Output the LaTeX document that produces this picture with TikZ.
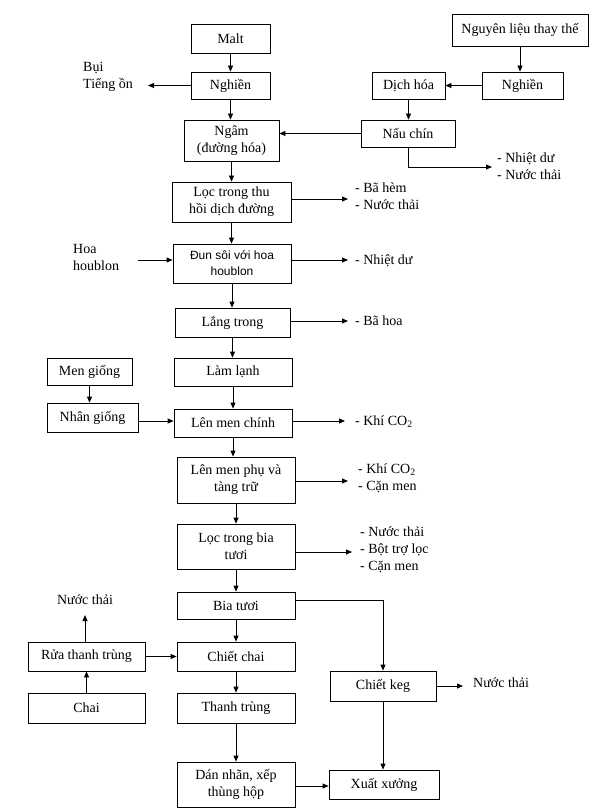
\documentclass[tikz,border=0pt]{standalone}
\usepackage{fontspec}
\setmainfont{Liberation Serif}
\newfontfamily\arialf{Liberation Sans}
\usetikzlibrary{arrows.meta}
\begin{document}
\begin{tikzpicture}[x=1pt,y=-1pt,
 box/.style={draw, line width=0.8pt, align=center, inner sep=0pt, font=\fontsize{14}{17}\selectfont},
 lbl/.style={align=left, inner sep=0pt, font=\fontsize{14}{17}\selectfont},
 arr/.style={line width=0.8pt, -{Triangle[length=6pt,width=5pt]}},
 ln/.style={line width=0.8pt}]
\useasboundingbox (0,0) rectangle (595,810);
% boxes
\node[box, minimum width=79pt, minimum height=29pt] (malt) at (230.5,38.5) {Malt};
\node[box, minimum width=79pt, minimum height=27pt] (ngh1) at (230.5,85.5) {Nghiền};
\node[box, minimum width=95pt, minimum height=41pt] (ngam) at (231.5,140.5) {Ngâm\\(đường hóa)};
\node[box, minimum width=136pt, minimum height=32pt] (nlt) at (520,30) {Nguyên liệu thay thế};
\node[box, minimum width=81pt, minimum height=27pt] (ngh2) at (522.5,85.5) {Nghiền};
\node[box, minimum width=73pt, minimum height=27pt] (dich) at (408.5,85.5) {Dịch hóa};
\node[box, minimum width=94pt, minimum height=27pt] (nau) at (408,133.5) {Nấu chín};
\node[box, minimum width=119pt, minimum height=40pt] (loc1) at (231.5,202) {Lọc trong thu\\hồi dịch đường};
\node[box, minimum width=118pt, minimum height=39pt, font=\arialf\fontsize{12}{16}\selectfont] (dun) at (232,263.5) {Đun sôi với hoa\\houblon};
\node[box, minimum width=115pt, minimum height=29pt] (lang) at (232.5,322.5) {Lắng trong};
\node[box, minimum width=118pt, minimum height=28pt] (lam) at (233,372) {Làm lạnh};
\node[box, minimum width=85pt, minimum height=27pt] (meng) at (89.5,371.5) {Men giống};
\node[box, minimum width=91pt, minimum height=29pt] (nhan) at (92.5,417.5) {Nhân giống};
\node[box, minimum width=118pt, minimum height=28pt] (lmc) at (233,423) {Lên men chính};
\node[box, minimum width=118pt, minimum height=46pt] (lmp) at (236,480) {Lên men phụ và\\tàng trữ};
\node[box, minimum width=118pt, minimum height=45pt] (locb) at (236,546.5) {Lọc trong bia\\tươi};
\node[box, minimum width=118pt, minimum height=27pt] (bia) at (236,605.5) {Bia tươi};
\node[box, minimum width=118pt, minimum height=29pt] (chiet) at (236,656.5) {Chiết chai};
\node[box, minimum width=117pt, minimum height=29pt] (rua) at (86.5,656.5) {Rửa thanh trùng};
\node[box, minimum width=117pt, minimum height=30pt] (chai) at (86.5,708) {Chai};
\node[box, minimum width=118pt, minimum height=30pt] (tt) at (236,708) {Thanh trùng};
\node[box, minimum width=118pt, minimum height=45pt] (dan) at (236,784.5) {Dán nhãn, xếp\\thùng hộp};
\node[box, minimum width=106pt, minimum height=30pt] (keg) at (383,686) {Chiết keg};
\node[box, minimum width=110pt, minimum height=29pt] (xx) at (384,784.5) {Xuất xưởng};
% labels
\node[lbl, anchor=west] (lbui) at (83,77) {Bụi\\Tiếng ồn};
\node[lbl, anchor=west] (lnau) at (497,166.5) {- Nhiệt dư\\- Nước thải};
\node[lbl, anchor=west] (lloc1) at (355,196.5) {- Bã hèm\\- Nước thải};
\node[lbl, anchor=west] (lhoa) at (73,257.5) {Hoa\\houblon};
\node[lbl, anchor=west] (ldun) at (355,261) {- Nhiệt dư};
\node[lbl, anchor=west] (llang) at (355,321) {- Bã hoa};
\node[lbl, anchor=west] (llmc) at (355,422) {- Khí CO\textsubscript{2}};
\node[lbl, anchor=west] (llmp) at (358,478.5) {- Khí CO\textsubscript{2}\\- Cặn men};
\node[lbl, anchor=west] (llocb) at (360,550) {- Nước thải\\- Bột trợ lọc\\- Cặn men};
\node[lbl, anchor=west] (lkeg) at (473,683) {Nước thải};
\node[lbl] (lrua) at (85,600) {Nước thải};
% coordinates for free ends
\coordinate (cbui) at (148,86);
\coordinate (cnau) at (492,167);
\coordinate (cloc1) at (348,199);
\coordinate (choa) at (138,260);
\coordinate (cdun) at (348,260);
\coordinate (clang) at (348,321);
\coordinate (cnhan) at (0,421);
\coordinate (clmc) at (345,421);
\coordinate (clmp) at (348,481);
\coordinate (clocb) at (352,552);
\coordinate (cbia) at (0,600);
\coordinate (ckeg) at (463,686);
\coordinate (crua) at (85,615);
\coordinate (cdan) at (0,786);
% main column
\draw[arr] (malt.south) -- (malt.south |- ngh1.north);
\draw[arr] (ngh1.south) -- (ngh1.south |- ngam.north);
\draw[arr] (ngam.south) -- (ngam.south |- loc1.north);
\draw[arr] (loc1.south) -- (loc1.south |- dun.north);
\draw[arr] (dun.south) -- (dun.south |- lang.north);
\draw[arr] (lang.south) -- (lang.south |- lam.north);
\draw[arr] (lam.south) -- (lam.south |- lmc.north);
\draw[arr] (lmc.south) -- (lmc.south |- lmp.north);
\draw[arr] (lmp.south) -- (lmp.south |- locb.north);
\draw[arr] (locb.south) -- (locb.south |- bia.north);
\draw[arr] (bia.south) -- (bia.south |- chiet.north);
\draw[arr] (chiet.south) -- (chiet.south |- tt.north);
\draw[arr] (tt.south) -- (tt.south |- dan.north);
% side inputs/outputs
\draw[arr] (ngh1.west) -- (ngh1.west -| cbui);
\draw[arr] (nlt.south) -- (nlt.south |- ngh2.north);
\draw[arr] (ngh2.west) -- (dich.east);
\draw[arr] (dich.south) -- (dich.south |- nau.north);
\draw[arr] (nau.west) -- (nau.west -| ngam.east);
\draw[arr] (nau.south) |- (cnau);
\draw[arr] (cloc1 -| loc1.east) -- (cloc1);
\draw[arr] (choa) -- (choa -| dun.west);
\draw[arr] (cdun -| dun.east) -- (cdun);
\draw[arr] (clang -| lang.east) -- (clang);
\draw[arr] (meng.south) -- (meng.south |- nhan.north);
\draw[arr] (cnhan -| nhan.east) -- (cnhan -| lmc.west);
\draw[arr] (clmc -| lmc.east) -- (clmc);
\draw[arr] (clmp -| lmp.east) -- (clmp);
\draw[arr] (clocb -| locb.east) -- (clocb);
\draw[arr] (cbia -| bia.east) -| (keg.north);
\draw[arr] (keg.east) -- (ckeg);
\draw[arr] (keg.south) -- (keg.south |- xx.north);
\draw[arr] (cdan -| dan.east) -- (cdan -| xx.west);
\draw[arr] (rua.east) -- (chiet.west);
\draw[arr] (rua.north -| crua) -- (crua);
\draw[arr] (chai.north) -- (rua.south);
\end{tikzpicture}
\end{document}
